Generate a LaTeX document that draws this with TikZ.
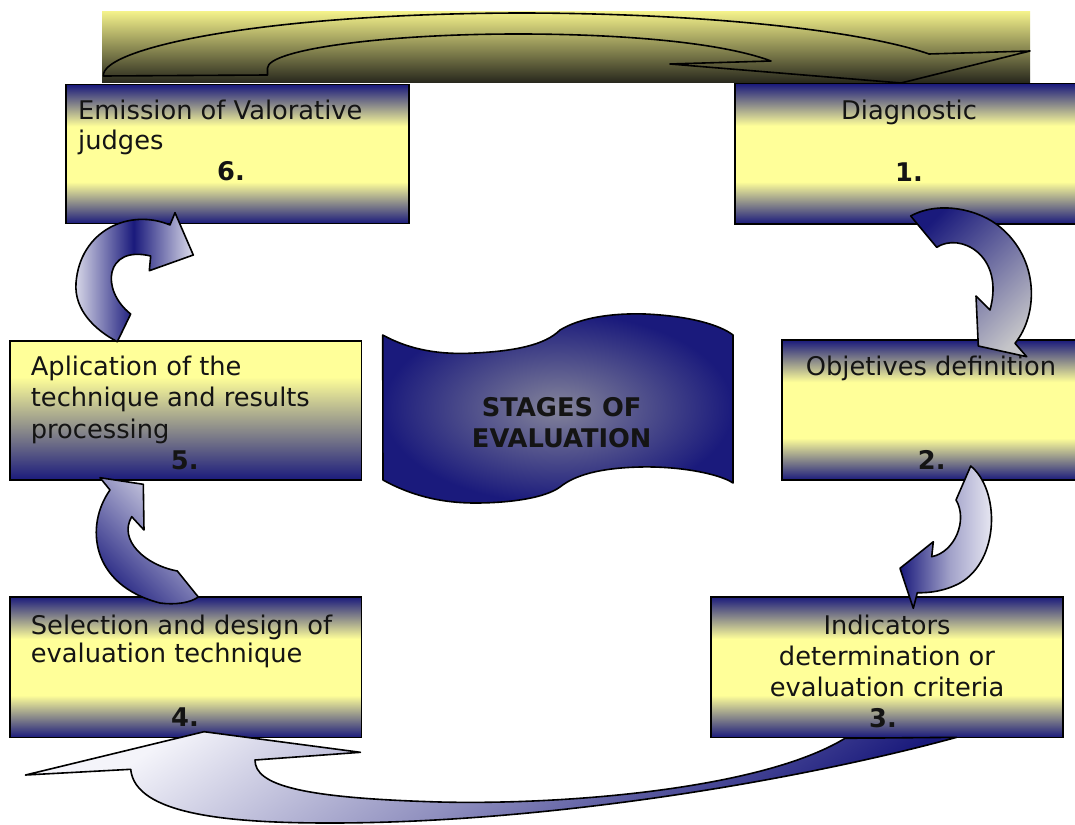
\documentclass[tikz,border=0pt]{standalone}
\usepackage{fontspec}
\setmainfont{DejaVu Sans}
\definecolor{navy}{HTML}{1A1A7C}
\definecolor{ylw}{HTML}{FFFF99}
\definecolor{stripTop}{HTML}{F2F08A}
\definecolor{stripBot}{HTML}{26261C}
\definecolor{agrey}{HTML}{C4C4C8}
\definecolor{lav}{HTML}{DCDCEA}
\definecolor{pale}{HTML}{F4F4FA}
\definecolor{bannerMid}{HTML}{84849A}
\definecolor{ink}{HTML}{141414}
% yellow band fading to navy at top and bottom
\pgfdeclareverticalshading{bandbox}{100bp}{color(0bp)=(navy); color(25bp)=(navy); color(40bp)=(ylw); color(60bp)=(ylw); color(75bp)=(navy); color(100bp)=(navy)}
% yellow top fading to navy at the bottom
\pgfdeclareverticalshading{fadebox}{100bp}{color(0bp)=(navy); color(25bp)=(navy); color(62bp)=(ylw); color(75bp)=(ylw); color(100bp)=(ylw)}
\tikzset{
  stagebox/.style={draw=black, line width=1.5pt, shade, shading=bandbox, anchor=north west, inner sep=0pt},
  blk/.style={draw=black, line width=1.6pt, line join=round},
  lbl/.style={font=\fontsize{25.7}{31}\selectfont, text=ink, inner sep=0pt},
  num/.style={font=\fontsize{25.7}{31}\selectfont\bfseries, text=ink, inner sep=0pt},
}
\begin{document}
\begin{tikzpicture}[x=1pt, y=-1pt]
\fill[white] (0,0) rectangle (1075,824);
\useasboundingbox (0,0) rectangle (1075,824);

% top band with the returning arrow outline
\shade[top color=stripTop, bottom color=stripBot] (102,12) rectangle (1030,83);
\draw[blk] (103.5,76) .. controls (100,50) and (250,14) .. (518,13)
  .. controls (700,13) and (860,30) .. (929,54) -- (1030,51) -- (901,83)
  -- (670,64) -- (771,61) .. controls (720,42) and (620,34) .. (518,34)
  .. controls (380,34) and (268,50) .. (267.5,68) -- (267.5,75) -- cycle;

% stage boxes
\node[stagebox, minimum width=343, minimum height=138.7] (b6) at (65,84) {};
\node[stagebox, minimum width=342, minimum height=140] (b1) at (734,83) {};
\node[stagebox, shading=fadebox, minimum width=351.4, minimum height=139.3] (b5) at (9.3,340) {};
\node[stagebox, minimum width=295, minimum height=140] (b2) at (781,339.3) {};
\node[stagebox, minimum width=351.4, minimum height=140.7] (b4) at (9.3,596) {};
\node[stagebox, minimum width=352, minimum height=140.7] (b3) at (710,596) {};

% box texts
\node[lbl, anchor=base west] (t6a) at (78,119.3) {Emission of Valorative};
\node[lbl, anchor=base west] (t6b) at (78,149.3) {judges};
\node[num, anchor=base] (n6) at (231,180) {6.};

\node[lbl, anchor=base] (t1) at (909,120) {Diagnostic};
\node[num, anchor=base] (n1) at (909,181.7) {1.};

\node[lbl, anchor=base west] (t5a) at (30.7,375) {Aplication of the};
\node[lbl, anchor=base west] (t5b) at (30.7,406.5) {technique and results};
\node[lbl, anchor=base west] (t5c) at (30.7,438) {processing};
\node[num, anchor=base] (n5) at (184.7,469.3) {5.};

\node[lbl, anchor=base] (t2) at (931,375) {Objetives definition};
\node[num, anchor=base] (n2) at (931.7,469.3) {2.};

\node[lbl, anchor=base west] (t4a) at (30.7,634) {Selection and design of};
\node[lbl, anchor=base west] (t4b) at (30.7,662.7) {evaluation technique};
\node[num, anchor=base] (n4) at (185,726) {4.};

\node[lbl, anchor=base] (t3a) at (887,634) {Indicators};
\node[lbl, anchor=base] (t3b) at (887,665) {determination or};
\node[lbl, anchor=base] (t3c) at (887,696) {evaluation criteria};
\node[num, anchor=base] (n3) at (883,727) {3.};

% centre banner
\shade[blk, inner color=bannerMid, outer color=navy]
  (382.7,335) .. controls (410,350) and (440,355) .. (475,353)
  .. controls (515,351) and (545,345) .. (560,330)
  .. controls (580,318) and (610,313) .. (645,314)
  .. controls (690,316) and (720,325) .. (733,335)
  -- (733,483) .. controls (720,474) and (680,466) .. (640,467)
  .. controls (600,468) and (575,475) .. (560,487)
  .. controls (545,498) and (510,503) .. (475,503)
  .. controls (440,503) and (410,495) .. (383,480) -- cycle;
\node[num, anchor=base] (ban1) at (561.7,416) {STAGES OF};
\node[num, anchor=base] (ban2) at (561.7,447.3) {EVALUATION};

% curved arrow 1 -> 2
\draw[blk, top color=navy, bottom color=agrey, shading angle=45]
  (910.7,216) -- (936.7,247.3) .. controls (960,232) and (1005,255) .. (990,310)
  -- (976,296) -- (978.3,346) -- (1026.7,356.7) -- (1015,343.3)
  .. controls (1038,315) and (1040,260) .. (1000,227)
  .. controls (980,210) and (940,200) .. (910.7,216) -- cycle;

% curved arrow 2 -> 3
\draw[blk, left color=navy, right color=pale, middle color=lav!70!navy]
  (970.7,466) .. controls (1000,490) and (1000,560) .. (960,583)
  .. controls (945,591) and (930,593) .. (917.3,592.7)
  -- (913.3,608.3) -- (900,568.3) -- (933.3,541.7) -- (931.7,556.7)
  .. controls (955,552) and (968,520) .. (956,500) -- cycle;

% curved arrow 3 -> 4
\draw[blk, top color=pale, bottom color=navy, middle color=lav!60!navy, shading angle=35]
  (956.7,737.3) -- (845,738.3) .. controls (760,790) and (560,805) .. (440,802)
  .. controls (300,798) and (255,785) .. (255,760)
  -- (360.4,752.3) -- (204.1,731.7) -- (25.5,775) -- (130.7,769.3)
  .. controls (135,815) and (230,823) .. (330,823)
  .. controls (550,823) and (800,780) .. (956.7,737.3) -- cycle;

% curved arrow 4 -> 5
\draw[blk, top color=lav, bottom color=navy, shading angle=-45]
  (198.3,597) -- (177.3,571) .. controls (145,565) and (118,540) .. (131.7,516.7)
  -- (144,530) -- (143.3,484.3) -- (100,477.7) -- (110,490)
  .. controls (85,525) and (90,585) .. (160,603)
  .. controls (175,605) and (190,603) .. (198.3,597) -- cycle;

% curved arrow 5 -> 6
\draw[blk, left color=lav, right color=lav, middle color=navy]
  (117.3,341.7) -- (130.7,314) .. controls (100,290) and (105,245) .. (150.7,256)
  -- (149.3,270.7) -- (193.3,255) -- (175,212.7) -- (170,225)
  .. controls (130,208) and (80,230) .. (76,283)
  .. controls (74,310) and (95,330) .. (117.3,341.7) -- cycle;
\end{tikzpicture}
\end{document}
